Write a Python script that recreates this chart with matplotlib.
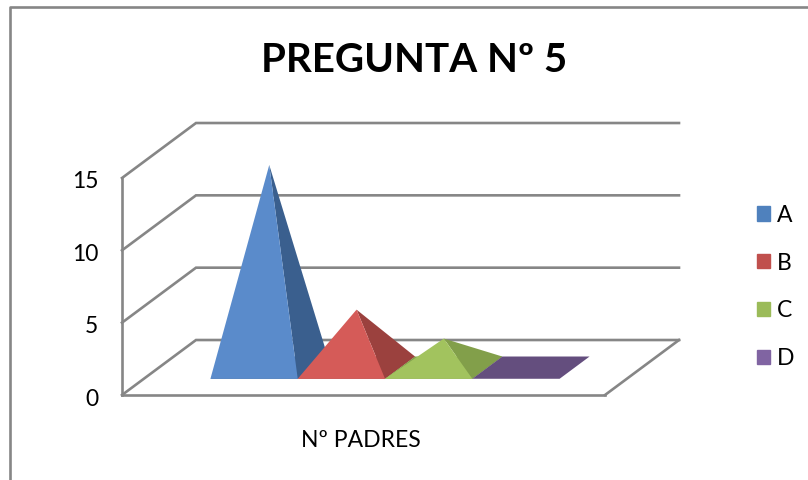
import matplotlib
matplotlib.use("Agg")
import matplotlib.pyplot as plt
from matplotlib.lines import Line2D
from matplotlib.patches import Patch, Polygon
from matplotlib.transforms import ScaledTranslation

plt.rcParams['font.family'] = ['Lato', 'DejaVu Sans']

# --- DATA ---
SERIES = ["A", "B", "C", "D"]
VALUES = [14, 4, 2, 0]
Y_TICKS = [0, 5, 10, 15]
CATEGORY = "Nº PADRES"
TITLE = "PREGUNTA Nº 5"

# --- STYLE ---
W, H = 808, 480
GRAY = "#868686"
LW = 1.9
FRONT = ["#5A8BCB", "#D55B58", "#A2C35E", "#8064A2"]
SIDE = ["#3A5F8E", "#9B413E", "#829F4A", "#644E7E"]
LEGEND = ["#4F81BD", "#C0504D", "#9BBB59", "#8064A2"]

# 3D look: offset of the full floor depth, in data units
DEPTH_X = 74 / 87.3
DEPTH_Y = 55 / 14.47
D0, D1 = 0.295, 0.70


def project(x, depth, val):
    return x + depth * DEPTH_X, val + depth * DEPTH_Y


fig = plt.figure(figsize=(W / 100, H / 100), dpi=100)

# outer chart frame, only left and top show in the crop
fig.add_artist(Line2D([9.5 / W, 9.5 / W, 1], [0, 1 - 7 / H, 1 - 7 / H], color=GRAY, lw=LW))

ax = fig.add_axes([122 / W, 1 - 395 / H, (605 - 122) / W, (395 - 178) / H])
ax.set_xlim(-1.263, 4.27)
ax.set_ylim(0, 15)
ax.patch.set_alpha(0)
for s in ["top", "right"]:
    ax.spines[s].set_visible(False)
for s in ["left", "bottom"]:
    ax.spines[s].set_color(GRAY)
    ax.spines[s].set_linewidth(LW)

x0, x1 = ax.get_xlim()

# walls and floor
for v in Y_TICKS:
    xs, ys = zip(project(x0, 0, v), project(x0, 1, v), project(x1, 1, v))
    ax.plot(xs, ys, color=GRAY, lw=LW, clip_on=False, solid_joinstyle="miter")
xs, ys = zip(project(x1, 0, 0), project(x1, 1, 0))
ax.plot(xs, ys, color=GRAY, lw=LW, clip_on=False)

# pyramids, a zero value leaves only the flat base
for i, v in enumerate(VALUES):
    fl = project(i - 0.5, D0, 0)
    fr = project(i + 0.5, D0, 0)
    br = project(i + 0.5, D1, 0)
    bl = project(i - 0.5, D1, 0)
    apex = project(i, 0.5, v)
    ax.add_patch(Polygon([fl, fr, br, bl], color=SIDE[i], lw=0, clip_on=False, zorder=3 + i))
    if v > 0:
        ax.add_patch(Polygon([fr, br, apex], color=SIDE[i], lw=0, clip_on=False, zorder=3 + i))
        ax.add_patch(Polygon([fl, fr, apex], color=FRONT[i], lw=0, clip_on=False, zorder=3 + i))

ax.set_yticks(Y_TICKS)
ax.set_xticks([(x0 + x1) / 2 - 0.025])
ax.set_xticklabels([CATEGORY])
ax.tick_params(axis="y", length=0, pad=17, labelsize=16.5)
ax.tick_params(axis="x", length=0, pad=25, labelsize=16.5)

# tick numbers sit a little under their gridlines
shift = ScaledTranslation(0, -2 / 100, fig.dpi_scale_trans)
for label in ax.get_yticklabels():
    label.set_transform(label.get_transform() + shift)

fig.text(414 / W, 1 - 60 / H, TITLE, fontsize=29, fontweight="bold", ha="center", va="center")

handles = [Patch(color=c, label=s) for c, s in zip(LEGEND, SERIES)]
fig.legend(handles=handles, loc="center left", bbox_to_anchor=(757 / W, 1 - 287 / H),
           frameon=False, fontsize=16.5, handlelength=0.57, handleheight=0.57,
           handletextpad=0.3, labelspacing=1.175, borderpad=0, borderaxespad=0)

fig.savefig("out.png", dpi=100)
